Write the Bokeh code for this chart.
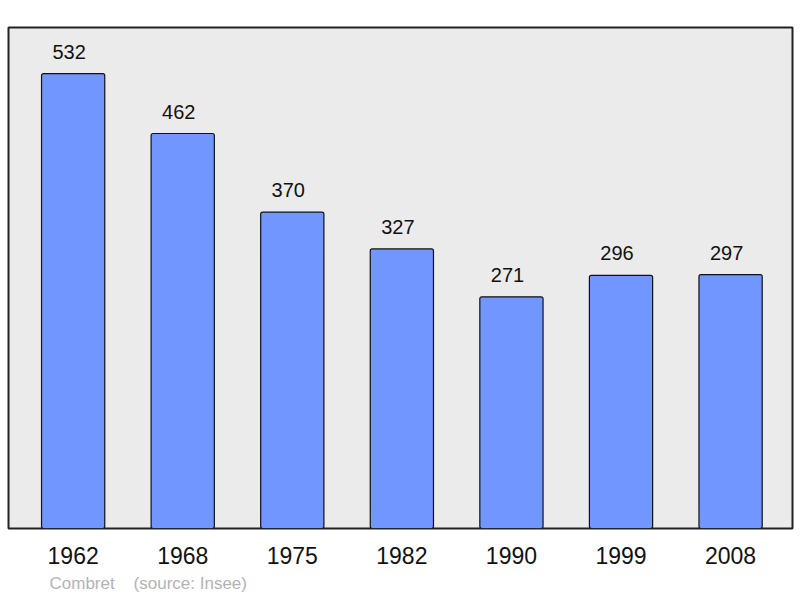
from bokeh.plotting import figure
from bokeh.models import ColumnDataSource, FixedTicker, Range1d, Title
from bokeh.core.properties import value
from bokeh.embed import file_html
from bokeh.resources import INLINE

years = ["1962", "1968", "1975", "1982", "1990", "1999", "2008"]
population = [532, 462, 370, 327, 271, 296, 297]
commune = "Combret"
source_note = "(source: Insee)"

idx = list(range(len(years)))
src = ColumnDataSource(dict(x=idx, y=population, lab=[str(v) for v in population]))

p = figure(width=800, height=598, output_backend="svg", toolbar_location=None,
           x_range=Range1d(-0.59, 6.565), y_range=Range1d(0, 586),
           min_border_left=8, min_border_right=8, min_border_top=27, min_border_bottom=70)
p.background_fill_color = "#ebebeb"
p.border_fill_color = "white"
p.outline_line_color = "#222222"
p.outline_line_width = 2
p.grid.visible = False
p.yaxis.visible = False

p.vbar(x="x", top="y", width=0.577, source=src, fill_color="#7196ff",
       line_color="#111111", line_width=1.2, border_radius=2)
p.text(x="x", y="y", text="lab", source=src, text_align="center", text_baseline="bottom",
       x_offset=-4, y_offset=-15, text_font=value("Liberation Sans"), text_font_size="20px",
       text_color="#111111")

ax = p.xaxis[0]
ax.ticker = FixedTicker(ticks=idx)
ax.major_label_overrides = {i: y for i, y in zip(idx, years)}
ax.axis_line_color = None
ax.major_tick_line_color = None
ax.minor_tick_line_color = None
ax.major_label_standoff = 12
ax.major_label_text_font = "Liberation Sans"
ax.major_label_text_font_size = "23px"
ax.major_label_text_color = "#111111"

foot = Title(text=commune + "\u00a0" * 4 + source_note, align="left", offset=41,
             standoff=11, text_font="Liberation Sans", text_font_style="normal",
             text_font_size="17px", text_color="#b3b3b3")
p.add_layout(foot, "below")

open("out.html", "w").write(file_html(p, INLINE))
